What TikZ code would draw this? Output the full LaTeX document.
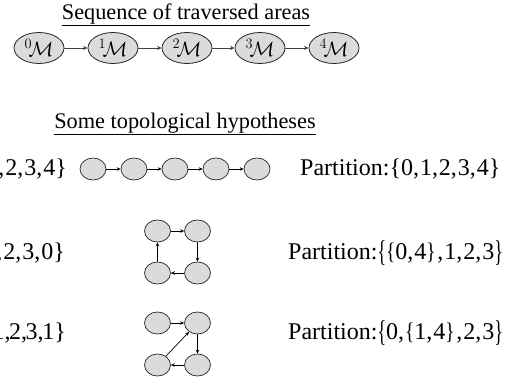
\documentclass[tikz,border=0pt]{standalone}
\usepackage{fontspec}
\setmainfont{Liberation Serif}
\usetikzlibrary{shapes.geometric,arrows.meta}

\tikzset{
  area/.style={ellipse, draw=black!85, line width=0.8pt, fill=black!14,
    minimum width=50pt, minimum height=31pt, inner sep=0pt, font=\fontsize{20.5}{24}\selectfont},
  small/.style={ellipse, draw=black!85, line width=0.7pt, fill=black!14,
    minimum width=26pt, minimum height=22pt, inner sep=0pt},
  link/.style={draw=black!75, line width=0.9pt, -{Stealth[length=4.5pt,width=4pt]}},
  tlink/.style={draw=black, line width=0.7pt, -{Stealth[length=4pt,width=3.5pt]}},
  heading/.style={font=\fontsize{22.3}{26}\selectfont, inner sep=0pt},
  label/.style={font=\fontsize{24}{28}\selectfont, inner sep=0pt},
}
% narrow braces for nested sets; the outer pair is taller
\newcommand{\ob}{\raisebox{-0.1em}{\scalebox{0.75}[1.25]{\{}}}
\newcommand{\cb}{\raisebox{-0.1em}{\scalebox{0.75}[1.25]{\}}}}
\newcommand{\ib}{\scalebox{0.8}[1]{\{}}
\newcommand{\jb}{\scalebox{0.8}[1]{\}}}
\newcommand{\cm}{,\kern0.04em}
\newcommand{\tc}{,\kern-0.06em}

\begin{document}
\begin{tikzpicture}[x=1pt,y=-1pt]
\useasboundingbox (0,0) rectangle (509,377);

% sequence of traversed areas
\node[heading] (t1) at (186,15) {\underline{Sequence of traversed areas}};
\foreach \i/\x in {0/39,1/113,2/187,3/260,4/334}
  \node[area] (m\i) at (\x,48) {${}^{\i}\!\mathcal{M}$};
\foreach \a/\b in {0/1,1/2,2/3,3/4}
  \draw[link] (m\a) -- (m\b);

% topological hypotheses
\node[heading] (t2) at (185,124) {\underline{Some topological hypotheses}};

% row 1: a chain
\node[label, anchor=east] (s1) at (67,169) {\cm2\cm3\cm4\}};
\foreach \i/\x in {0/93,1/134,2/175,3/216,4/257}
  \node[small] (a\i) at (\x,169) {};
\foreach \a/\b in {0/1,1/2,2/3,3/4}
  \draw[tlink] (a\a) -- (a\b);
\node[label, anchor=west] (p1) at (300,169) {Partition:\{0\cm1\cm2\cm3\cm4\}};

% row 2: a loop back to the first area
\node[label, anchor=east] (s2) at (65,253) {\cm2\cm3\cm0\}};
\node[small] (b0) at (157.5,231) {};
\node[small] (b1) at (197.5,231) {};
\node[small] (b2) at (197.5,273) {};
\node[small] (b3) at (157.5,273) {};
\draw[tlink] (b0) -- (b1);
\draw[tlink] (b1) -- (b2);
\draw[tlink] (b2) -- (b3);
\draw[tlink] (b3) -- (b0);
\node[label, anchor=west] (p2) at (288,253) {Partition:\ob\ib0\cm4\jb\kern0.08em\cm1\cm2\cm3\cb};

% row 3: a loop back to the second area
\node[label, anchor=east] (s3) at (66,333) {1\tc2\tc3\tc1\}};
\node[small] (c0) at (157.5,323) {};
\node[small] (c1) at (197.5,323) {};
\node[small] (c2) at (197.5,365) {};
\node[small] (c3) at (157.5,365) {};
\draw[tlink] (c0) -- (c1);
\draw[tlink] (c1) -- (c2);
\draw[tlink] (c2) -- (c3);
\draw[tlink] (c3) -- (c1);
\node[label, anchor=west] (p3) at (288,333) {Partition:\ob0\cm\ib1\cm4\jb\kern0.08em\cm2\cm3\cb};
\end{tikzpicture}
\end{document}
